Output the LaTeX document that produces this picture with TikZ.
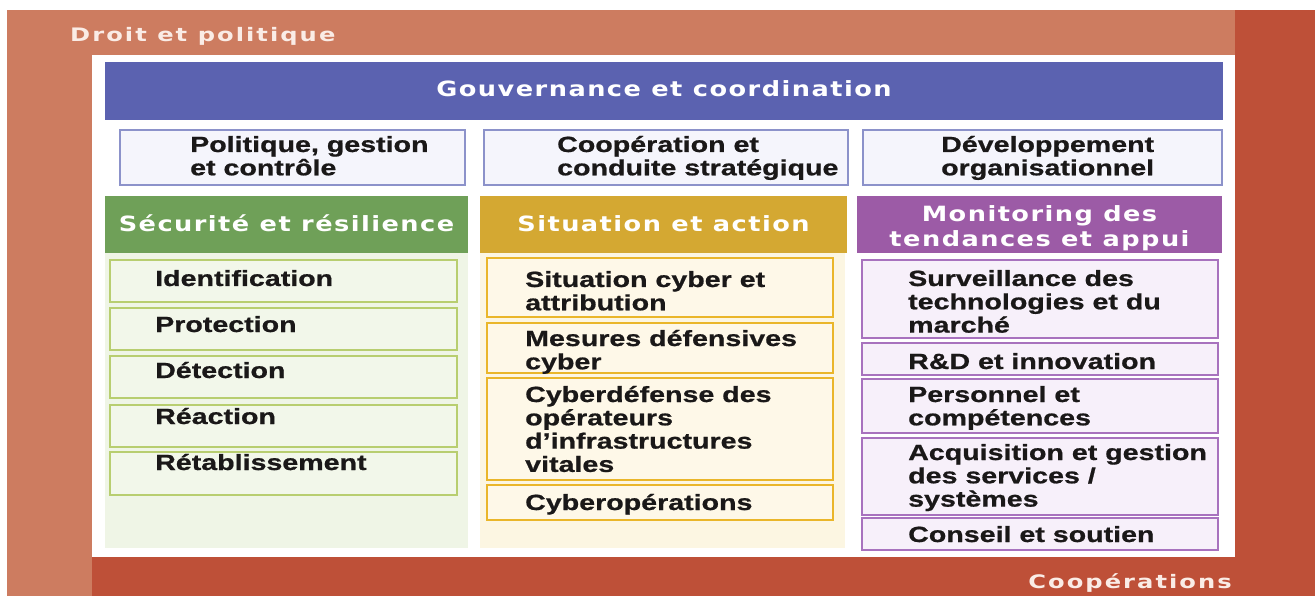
\documentclass[tikz,border=0pt]{standalone}
\usepackage{fontspec}
\newfontfamily\bodyfont{Liberation Sans}[FakeStretch=1.3, FakeBold=0.8]
\newfontfamily\headfont{DejaVu Sans}[FakeStretch=1.22, LetterSpace=7]
\newfontfamily\framefont{DejaVu Sans}[FakeStretch=1.3, LetterSpace=11]
\definecolor{bandlight}{RGB}{205,124,96}
\definecolor{banddark}{RGB}{190,80,56}
\definecolor{govblue}{RGB}{91,98,176}
\definecolor{rowfill}{RGB}{245,245,252}
\definecolor{rowline}{RGB}{140,146,202}
\definecolor{grhead}{RGB}{111,160,88}
\definecolor{grbg}{RGB}{239,245,230}
\definecolor{grfill}{RGB}{242,247,234}
\definecolor{grline}{RGB}{184,206,112}
\definecolor{yehead}{RGB}{212,168,50}
\definecolor{yebg}{RGB}{252,246,226}
\definecolor{yefill}{RGB}{254,248,232}
\definecolor{yeline}{RGB}{234,182,42}
\definecolor{puhead}{RGB}{156,91,166}
\definecolor{pufill}{RGB}{247,240,250}
\definecolor{puline}{RGB}{168,114,190}
\definecolor{inktext}{RGB}{26,24,24}
\definecolor{labelwhite}{RGB}{250,236,230}
\newcommand\bx[6]{\node[#2, anchor=north west, minimum width={#5-#3}, minimum height={#6-#4}] (#1) at (#3,#4) {};}
\begin{document}
\begin{tikzpicture}[x=1pt,y=-1pt,
  boxbase/.style={rectangle, inner sep=0pt, outer sep=0pt},
  headbox/.style={boxbase, fill=#1},
  rowbox/.style={boxbase, draw=rowline, fill=rowfill, line width=2pt},
  bgbox/.style={boxbase, fill=#1},
  itembox/.style={boxbase, draw=#1, line width=2.4pt},
  btxt/.style={inner sep=0pt, anchor=base west, text=inktext, font=\bodyfont\bfseries\fontsize{22}{23.3}\selectfont},
  htxt/.style={inner sep=0pt, anchor=base, text=white, font=\headfont\bfseries\fontsize{21}{25}\selectfont},
  ftxt/.style={inner sep=0pt, text=labelwhite, font=\framefont\bfseries\fontsize{18.6}{22}\selectfont}]
\useasboundingbox (0,0) rectangle (1315,596);
\fill[white] (0,0) rectangle (1315,596);
% frame bands
\fill[bandlight] (7,10) rectangle (1235,55);
\fill[bandlight] (7,10) rectangle (92,596);
\fill[banddark] (1235,10) rectangle (1315,596);
\fill[banddark] (92,557) rectangle (1235,596);
\fill[white] (92,55) rectangle (1235,557);
\node[ftxt, anchor=base west] (droit) at (70,42) {Droit et politique};
\node[ftxt, anchor=base east] (coop) at (1232,588) {Coopérations};
% governance
\bx{gov}{headbox=govblue}{105}{62}{1223}{120}
\node[htxt] (govt) at (664,97) {Gouvernance et coordination};
% second row
\bx{r1}{rowbox}{120}{130}{465}{185}
\bx{r2}{rowbox}{484}{130}{848}{185}
\bx{r3}{rowbox}{863}{130}{1222}{185}
\node[btxt] (r1t) at (190,152) {\parbox[t]{300pt}{Politique, gestion\\et contrôle}};
\node[btxt] (r2t) at (557,152) {\parbox[t]{300pt}{Coopération et\\conduite stratégique}};
\node[btxt] (r3t) at (941,152) {\parbox[t]{300pt}{Développement\\organisationnel}};
% column headers
\bx{gh}{headbox=grhead}{105}{196}{468}{253}
\bx{yh}{headbox=yehead}{480}{196}{847}{253}
\bx{ph}{headbox=puhead}{857}{196}{1222}{253}
\node[htxt] (ght) at (286.5,232) {Sécurité et résilience};
\node[htxt] (yht) at (663.5,232) {Situation et action};
\node[htxt] (pht) at (1039.5,222) {\parbox[t]{360pt}{\centering Monitoring des\\tendances et appui}};
% column backgrounds
\bx{gbg}{bgbox=grbg}{105}{253}{468}{548}
\bx{ybg}{bgbox=yebg}{480}{253}{845}{548}
% green items
\bx{g1}{itembox=grline, fill=grfill}{110}{260}{457}{302}
\bx{g2}{itembox=grline, fill=grfill}{110}{308}{457}{350}
\bx{g3}{itembox=grline, fill=grfill}{110}{356}{457}{398}
\bx{g4}{itembox=grline, fill=grfill}{110}{405}{457}{447}
\bx{g5}{itembox=grline, fill=grfill}{110}{452}{457}{495}
\node[btxt] (g1t) at (155,286) {Identification};
\node[btxt] (g2t) at (155,332) {Protection};
\node[btxt] (g3t) at (155,378) {Détection};
\node[btxt] (g4t) at (155,424) {Réaction};
\node[btxt] (g5t) at (155,470) {Rétablissement};
% yellow items
\bx{y1}{itembox=yeline, fill=yefill}{487}{258}{833}{317}
\bx{y2}{itembox=yeline, fill=yefill}{487}{323}{833}{373}
\bx{y3}{itembox=yeline, fill=yefill}{487}{378}{833}{480}
\bx{y4}{itembox=yeline, fill=yefill}{487}{485}{833}{520}
\node[btxt] (y1t) at (525,287) {\parbox[t]{300pt}{Situation cyber et\\attribution}};
\node[btxt] (y2t) at (525,346) {\parbox[t]{300pt}{Mesures défensives\\cyber}};
\node[btxt] (y3t) at (525,402) {\parbox[t]{300pt}{Cyberdéfense des\\opérateurs\\d’infrastructures\\vitales}};
\node[btxt] (y4t) at (525,510) {Cyberopérations};
% purple items
\bx{p1}{itembox=puline, fill=pufill}{862}{260}{1218}{338}
\bx{p2}{itembox=puline, fill=pufill}{862}{343}{1218}{375}
\bx{p3}{itembox=puline, fill=pufill}{862}{379}{1218}{433}
\bx{p4}{itembox=puline, fill=pufill}{862}{438}{1218}{515}
\bx{p5}{itembox=puline, fill=pufill}{862}{518}{1218}{550}
\node[btxt] (p1t) at (908,286) {\parbox[t]{300pt}{Surveillance des\\technologies et du\\marché}};
\node[btxt] (p2t) at (908,369) {R\&D et innovation};
\node[btxt] (p3t) at (908,402) {\parbox[t]{300pt}{Personnel et\\compétences}};
\node[btxt] (p4t) at (908,460) {\parbox[t]{310pt}{Acquisition et gestion\\des services /\\systèmes}};
\node[btxt] (p5t) at (908,542) {Conseil et soutien};
\end{tikzpicture}
\end{document}
